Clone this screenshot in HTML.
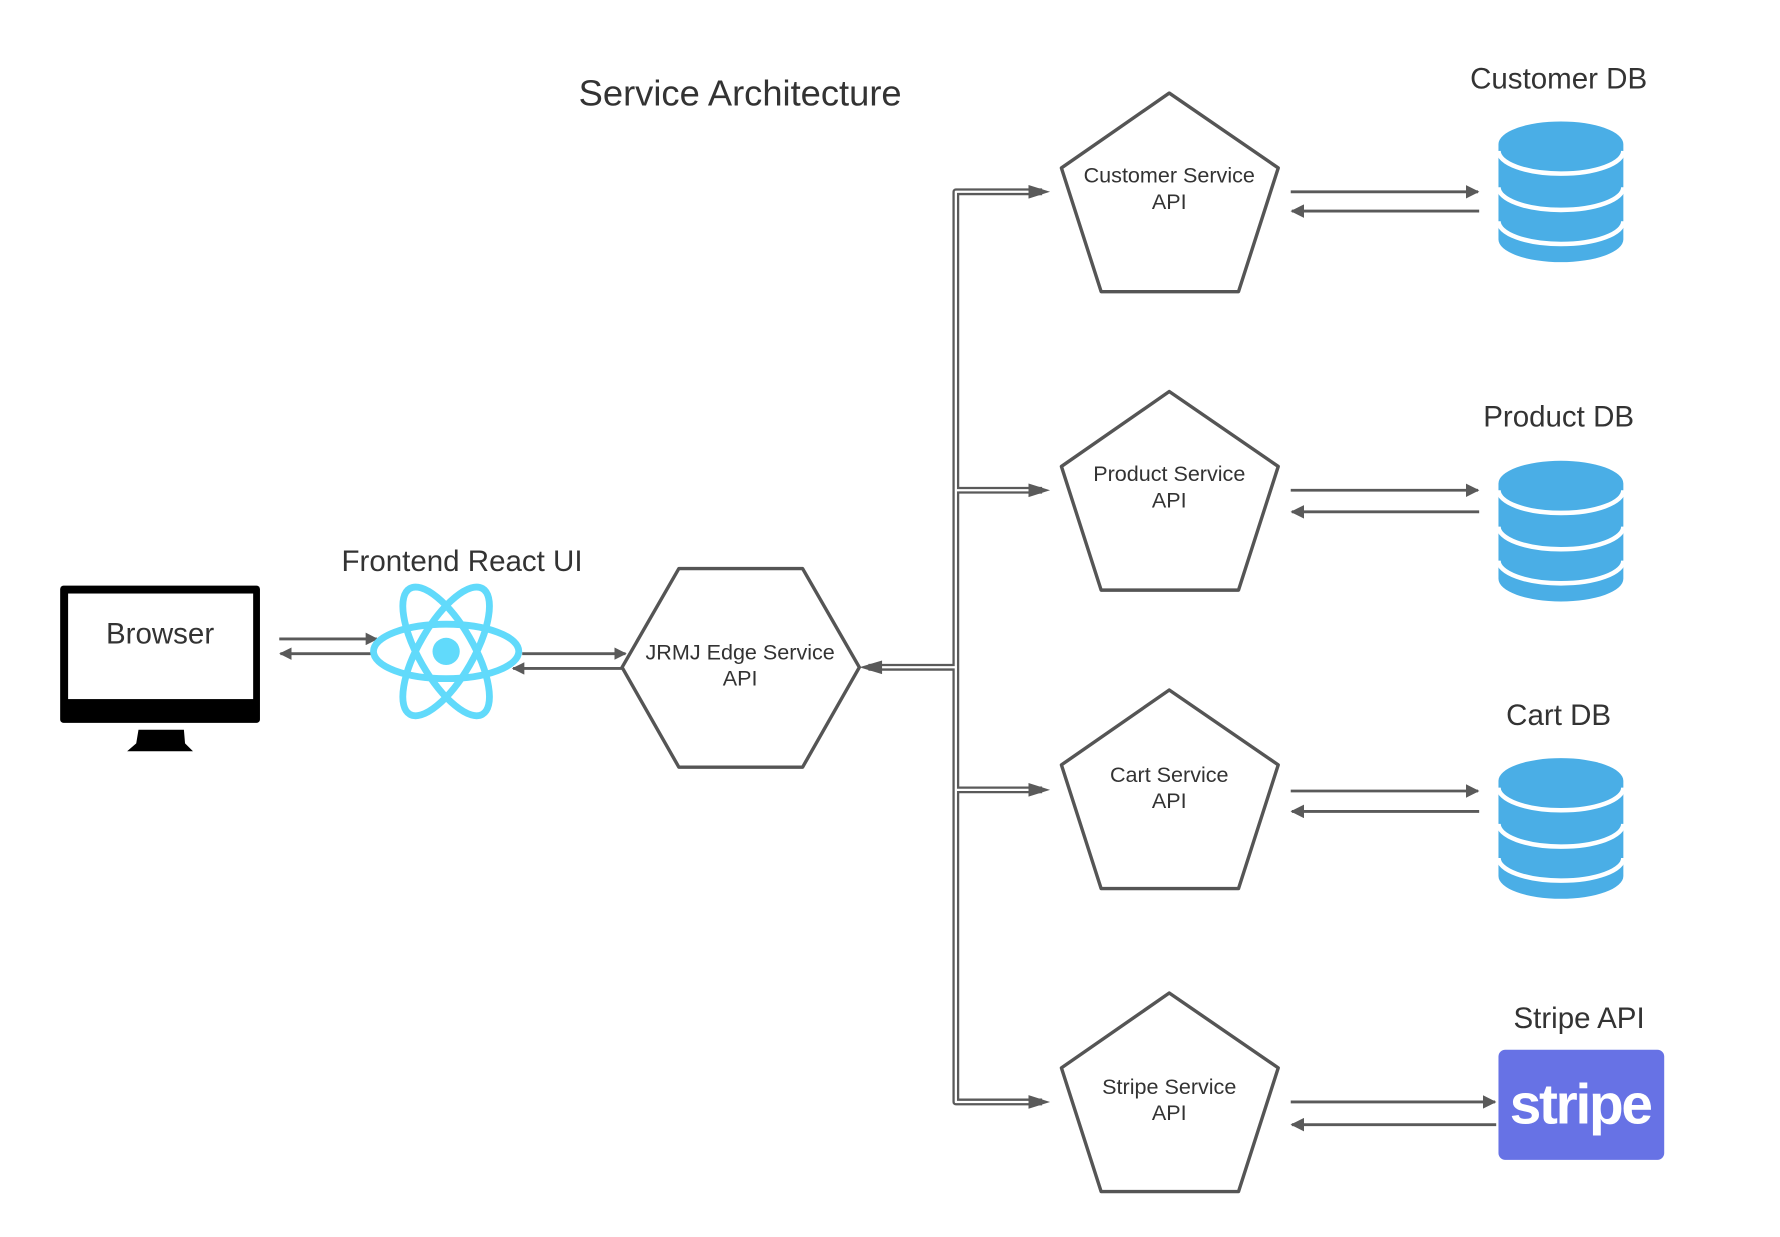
<!DOCTYPE html>
<html><head><meta charset="utf-8"><style>
html,body{margin:0;padding:0;background:#fff;width:1780px;height:1237px;overflow:hidden}
svg{display:block}
text{font-family:"Liberation Sans",sans-serif;fill:#333;text-anchor:middle}
</style></head><body>
<svg width="1780" height="1237" viewBox="0 0 1568 1090" preserveAspectRatio="none" xmlns="http://www.w3.org/2000/svg">
<defs>
<marker id="ah" viewBox="0 0 10 10" refX="9" refY="5" markerWidth="11" markerHeight="11" markerUnits="userSpaceOnUse" orient="auto"><path d="M0,0 L10,5 L0,10 z" fill="#5a5a5a"/></marker>
<marker id="ah2" viewBox="0 0 10 10" refX="9" refY="5" markerWidth="12" markerHeight="12" markerUnits="userSpaceOnUse" orient="auto"><path d="M0,0 L10,5 L0,10 z" fill="#5a5a5a"/></marker>
<g id="db">
<path d="M0,20 A55,20 0 0 1 110,20 L110,104 A55,20 0 0 1 0,104 Z" fill="#4aaee6"/>
<path d="M0,26 A55,20 0 0 0 110,26" fill="none" stroke="#fff" stroke-width="4"/>
<path d="M0,58 A55,20 0 0 0 110,58" fill="none" stroke="#fff" stroke-width="4"/>
<path d="M0,88 A55,20 0 0 0 110,88" fill="none" stroke="#fff" stroke-width="4"/>
</g>
<path id="pent" d="M1030,0 L1126,66 L1091,175 L970,175 L935,66 Z" fill="#fff" stroke="#555" stroke-width="3" stroke-linejoin="round"/>
</defs>

<text x="652" y="93" font-size="32">Service Architecture</text>

<rect x="53" y="516" width="176" height="121" rx="3" fill="#000"/>
<rect x="60" y="523" width="163" height="93" fill="#fff"/>
<path d="M122,643 L162,643 L163,655 L170,662 L112,662 L120,655 Z" fill="#000"/>
<text x="141" y="567" font-size="26">Browser</text>
<line x1="246" y1="563" x2="332" y2="563" stroke="#5a5a5a" stroke-width="2.5" marker-end="url(#ah)"/>
<line x1="330" y1="576" x2="247" y2="576" stroke="#5a5a5a" stroke-width="2.5" marker-end="url(#ah)"/>

<text x="407" y="503" font-size="26">Frontend React UI</text>
<g fill="none" stroke="#61dafb" stroke-width="6">
<ellipse cx="393" cy="574" rx="64" ry="24"/>
<ellipse cx="393" cy="574" rx="64" ry="24" transform="rotate(60 393 574)"/>
<ellipse cx="393" cy="574" rx="64" ry="24" transform="rotate(-60 393 574)"/>
</g>
<circle cx="393" cy="574" r="12" fill="#61dafb"/>
<line x1="460" y1="576" x2="551" y2="576" stroke="#5a5a5a" stroke-width="2.5" marker-end="url(#ah)"/>
<line x1="548" y1="589" x2="452" y2="589" stroke="#5a5a5a" stroke-width="2.5" marker-end="url(#ah)"/>

<path d="M548,588 L598,501 L707,501 L757,588 L707,676 L598,676 Z" fill="#fff" stroke="#555" stroke-width="3" stroke-linejoin="round"/>
<text x="652" y="581" font-size="19">JRMJ Edge Service</text>
<text x="652" y="604" font-size="19">API</text>

<g fill="none" stroke="#5a5a5a" stroke-width="6" stroke-linejoin="round">
<path d="M842,588 L765,588"/>
<path d="M918,169 L842,169 L842,971 L918,971"/>
<path d="M842,432 L918,432"/>
<path d="M842,696 L918,696"/>
</g>
<g fill="none" stroke="#fff" stroke-width="2" stroke-linejoin="round">
<path d="M842,588 L768,588"/>
<path d="M916,169 L842,169 L842,971 L916,971"/>
<path d="M842,432 L916,432"/>
<path d="M842,696 L916,696"/>
</g>
<path d="M757,588 L777,582 L777,594 Z" fill="#5a5a5a"/>
<path d="M925,169 L906,163 L906,175 Z" fill="#5a5a5a"/>
<path d="M925,432 L906,426 L906,438 Z" fill="#5a5a5a"/>
<path d="M925,696 L906,690 L906,702 Z" fill="#5a5a5a"/>
<path d="M925,971 L906,965 L906,977 Z" fill="#5a5a5a"/>

<use href="#pent" transform="translate(0,82)"/>
<use href="#pent" transform="translate(0,345)"/>
<use href="#pent" transform="translate(0,608)"/>
<use href="#pent" transform="translate(0,875)"/>
<g font-size="19">
<text x="1030" y="161">Customer Service</text><text x="1030" y="184">API</text>
<text x="1030" y="424">Product Service</text><text x="1030" y="447">API</text>
<text x="1030" y="689">Cart Service</text><text x="1030" y="712">API</text>
<text x="1030" y="964">Stripe Service</text><text x="1030" y="987">API</text>
</g>

<g stroke="#5a5a5a" stroke-width="2.5">
<line x1="1137" y1="169" x2="1302" y2="169" marker-end="url(#ah2)"/>
<line x1="1303" y1="186" x2="1138" y2="186" marker-end="url(#ah2)"/>
<line x1="1137" y1="432" x2="1302" y2="432" marker-end="url(#ah2)"/>
<line x1="1303" y1="451" x2="1138" y2="451" marker-end="url(#ah2)"/>
<line x1="1137" y1="697" x2="1302" y2="697" marker-end="url(#ah2)"/>
<line x1="1303" y1="715" x2="1138" y2="715" marker-end="url(#ah2)"/>
<line x1="1137" y1="971" x2="1317" y2="971" marker-end="url(#ah2)"/>
<line x1="1318" y1="991" x2="1138" y2="991" marker-end="url(#ah2)"/>
</g>

<g font-size="26">
<text x="1373" y="78">Customer DB</text>
<text x="1373" y="376">Product DB</text>
<text x="1373" y="639">Cart DB</text>
<text x="1391" y="906">Stripe API</text>
</g>
<use href="#db" transform="translate(1320,107)"/>
<use href="#db" transform="translate(1320,406)"/>
<use href="#db" transform="translate(1320,668)"/>

<rect x="1320" y="925" width="146" height="97" rx="6" fill="#6772e5"/>
<text x="1392" y="990" font-size="50" font-weight="bold" style="fill:#fff;letter-spacing:-2px">stripe</text>
</svg>
</body></html>
